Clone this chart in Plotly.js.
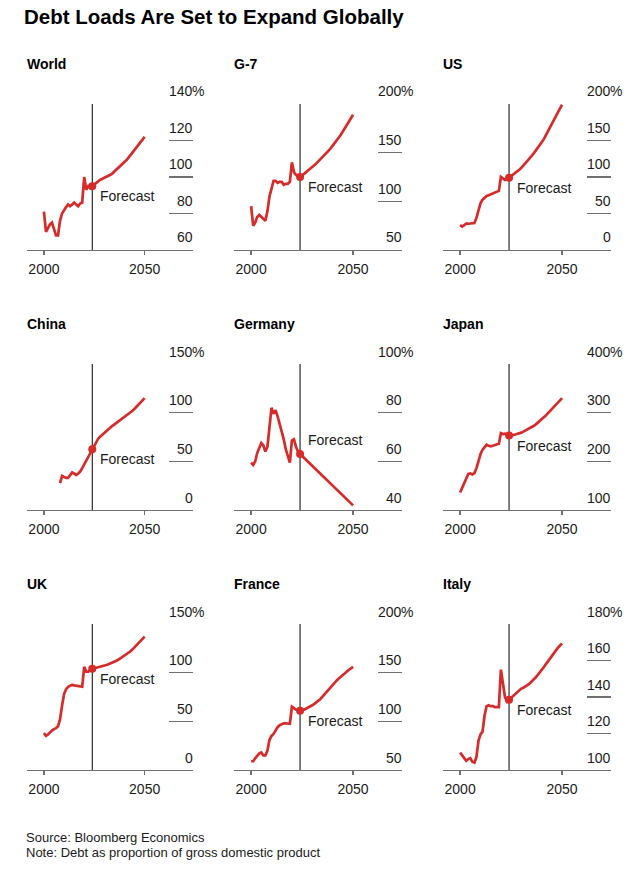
<!DOCTYPE html>
<html><head><meta charset="utf-8">
<script src="https://cdn.plot.ly/plotly-3.0.1.min.js"></script>
<style>html,body{margin:0;padding:0;background:#fff}#chart{width:635px;height:872px}</style>
</head><body><div id="chart"></div>
<script>
// ---------- DATA ----------
const years = [2000,2001,2002,2003,2004,2005,2006,2007,2008,2009,2010,2011,2012,2013,2014,2015,2016,2017,2018,2019,2020,2021,2022,2023,2024,
  2025,2026,2027,2028,2029,2030,2031,2032,2033,2034,2035,2036,2037,2038,2039,2040,2041,2042,2043,2044,2045,2046,2047,2048,2049,2050];
const panelNames = ["World","G-7","US","China","Germany","Japan","UK","France","Italy"];

const world = [81,70,72,74,75,71,68,68,76,80,82,83.5,85,84,85,86,85,84,85.5,86,100,93,95,94,95,
  96,97,98,98.5,99,99.5,100,100.5,101.2,102,103,104,105,106,107,108,109.3,110.6,112,113.4,114.8,116.2,117.6,119,120.5,122];
const g7 = [95,75,78,84,86,84,81,80,90,105,113,121,121,119,120,120,117,118,118,120,140,130,127,126,125,
  126.5,128,130,132,133.5,135,137,139,141,143,145,147,149.5,152,154.5,157,160,162.5,165.5,168.5,172,175.5,179,182.5,186,189];
const us = [34,32,34,36,36,36,36,37,44,55,64,69,72,74,75,76,77,78,80,81,100,98,96,97,99,
  101,103,105,107.5,110,112.5,115.5,118.5,121.5,125,128.5,132,135.5,139.5,143.5,147.5,151.5,156.5,161.5,167,172.5,178,183.5,189,194,199];
const china = [null,null,null,null,null,null,null,null,27.5,35,34,33,33,36,38.5,37.5,36,37.5,39.5,43,47,50,54,58,62.5,
  67,71,73.5,75.5,77.5,79.5,81.5,83.5,85,86.5,88,89.5,91,92.5,94,95.5,97,98.5,100,102,104,106,108,110,112.5,115];
const germany = [59.5,58.5,60,63.5,65.5,67.5,66.5,64,66,73,82,79.5,81,78.5,75.5,72,69,65,62,59.5,68.5,69,66,64,63,
  62.2,61.4,60.6,59.8,59.0,58.1,57.3,56.5,55.7,54.9,54.0,53.2,52.4,51.6,50.8,50.0,49.2,48.3,47.5,46.7,45.9,45.1,44.3,43.5,42.7,41.9];
const japan = [136,146,156,166,174,175,173,176,186,200,215,224,230,234,232,231,232,233,234,236,258,256,257,254,253,
  253,254,255,256,257.5,259,261,263,265,267,269.5,272.5,275.5,279,282.5,286,290,294,298.5,303,307.5,312,316.5,321,325.5,330];
const uk = [38,35,36.5,39,40.5,42,43,45,52,66,78,83,85.5,86.5,87.5,87,86.5,86,85.5,85.5,106,101,101,103,104,
  104.5,105,105.3,105.7,106.3,107,107.8,108.6,109.4,110.2,111.2,112.3,113.5,114.8,116.1,117.4,118.8,120.2,122,124,126,128.2,130.5,132.7,135,137];
const france = [59,59,62,65,67,68,65,65,70,81,85,87,91,94,96,97,98,98,97.5,97.5,115,113,112,111,111,
  111.5,112,113,114,115,116.5,118,119.5,121,123,125.5,128,130.5,133,135.5,138,140,142,144,146,148,149.8,151.5,153,154.5,156];
const italy = [109.5,108,106,105,106,106.5,104.5,104,107,116,119.5,121,130,135,135.5,135,135,134.5,134.5,134.5,155,146,140,137.5,138.5,
  139.5,140.5,142,143,144,144.6,145.1,145.6,146.5,147.3,148.3,149.5,150.7,152,153.3,154.8,156.3,157.9,159.5,161.2,162.8,164.3,165.7,167,168.2,169.3];

const series = [world,g7,us,china,germany,japan,uk,france,italy];

const yRanges = [[60,140],[50,200],[0,200],[0,150],[40,100],[100,400],[0,150],[50,200],[100,180]];
const yTicks = [[60,80,100,120,140],[50,100,150,200],[0,50,100,150,200],[0,50,100,150],[40,60,80,100],
  [100,200,300,400],[0,50,100,150],[50,100,150,200],[100,120,140,160,180]];
const xTicks = [2000,2050];
const forecastYear = 2024;
const forecastText = "Forecast";
const unitSuffix = "%";
const chartTitle = "Debt Loads Are Set to Expand Globally";
const footnotes = ["Source: Bloomberg Economics","Note: Debt as proportion of gross domestic product"];

// ---------- STYLE / LAYOUT ----------
const W = 635, H = 872;
const FONT = "Liberation Sans, Arial, Helvetica, sans-serif";
const RED = "#d52b2b";
const GREY = "#707070";
const TXT = "#1a1a1a";
const colPx = [[27,193],[234,402],[443,611]];
const rowPx = [[104,250],[364,510],[624,770]];
const xRange = [1991.6, 2074];
const forecastAbove = [false,false,false,false,true,false,false,false,false];

const data = [];
const layout = {
  width: W, height: H,
  margin: {l:0,r:0,t:0,b:0},
  paper_bgcolor: "#fff", plot_bgcolor: "#fff",
  showlegend: false,
  font: {family: FONT, color: TXT},
  title: {text: "<b>" + chartTitle + "</b>", x: 24/W, xanchor: "left", xref: "paper",
          y: 1 - 17/H, yref: "paper", yanchor: "middle",
          font: {family: FONT, size: 20.5, color: "#000"}},
  shapes: [], annotations: []
};

series.forEach((vals, i) => {
  const s = i === 0 ? "" : String(i + 1);
  const col = i % 3, row = Math.floor(i / 3);
  const xa = "x" + s, ya = "y" + s;
  const fi = years.indexOf(forecastYear);
  const fv = vals[fi];

  data.push({x: years, y: vals, type: "scatter", mode: "lines", xaxis: xa, yaxis: ya,
    line: {color: RED, width: 2.7}, hoverinfo: "skip", connectgaps: false});
  data.push({x: [forecastYear], y: [fv], type: "scatter", mode: "markers", xaxis: xa, yaxis: ya,
    marker: {color: RED, size: 8}, hoverinfo: "skip"});

  layout["xaxis" + s] = {
    domain: [colPx[col][0]/W, colPx[col][1]/W], anchor: ya,
    range: xRange, tickvals: xTicks, ticktext: xTicks.map(String),
    ticks: "outside", ticklen: 4, tickwidth: 1.3, tickcolor: GREY,
    showline: true, linecolor: GREY, linewidth: 1.3,
    showgrid: false, zeroline: false, fixedrange: true,
    tickfont: {family: FONT, size: 14, color: TXT}, ticklabelstandoff: 2
  };
  layout["yaxis" + s] = {
    domain: [1 - rowPx[row][1]/H, 1 - rowPx[row][0]/H], anchor: xa, side: "right",
    range: yRanges[i], tickvals: yTicks[i],
    ticks: "inside", ticklen: 24, tickwidth: 1.3, tickcolor: GREY,
    showticklabels: false, showgrid: false, zeroline: false, showline: false, fixedrange: true
  };

  layout.shapes.push({type: "line", xref: xa, yref: ya + " domain", x0: forecastYear, x1: forecastYear,
    y0: 0, y1: 1, line: {color: "#000", width: 1}, layer: "below"});

  // panel title
  layout.annotations.push({text: "<b>" + panelNames[i] + "</b>", xref: xa + " domain", yref: ya + " domain",
    x: 0, y: 1, xanchor: "left", yanchor: "middle", xshift: -2, yshift: 40, showarrow: false,
    font: {family: FONT, size: 14, color: "#000"}});

  // y tick labels (above the tick segments)
  yTicks[i].forEach((t, k) => {
    layout.annotations.push({text: String(t), xref: xa + " domain", yref: ya, x: 1, y: t,
      xanchor: "right", yanchor: "middle", xshift: 2, yshift: 12.5, showarrow: false,
      font: {family: FONT, size: 14, color: TXT}});
    if (k === yTicks[i].length - 1) {
      layout.annotations.push({text: unitSuffix, xref: xa + " domain", yref: ya, x: 1, y: t,
        xanchor: "left", yanchor: "middle", xshift: -3, yshift: 12.5, showarrow: false,
        font: {family: FONT, size: 14, color: TXT}});
    }
  });

  // forecast label
  layout.annotations.push({text: forecastText, xref: xa, yref: ya, x: forecastYear, y: fv,
    xanchor: "left", yanchor: "middle", xshift: 6, yshift: forecastAbove[i] ? 14 : -10, showarrow: false,
    font: {family: FONT, size: 14, color: TXT}});
});

footnotes.forEach((t, k) => {
  layout.annotations.push({text: t, xref: "paper", yref: "paper", x: 24/W, y: 1 - (837 + k*15.5)/H,
    xanchor: "left", yanchor: "middle", showarrow: false, font: {family: FONT, size: 13, color: TXT}});
});

Plotly.newPlot("chart", data, layout, {staticPlot: true, displayModeBar: false});
</script>
</body></html>
